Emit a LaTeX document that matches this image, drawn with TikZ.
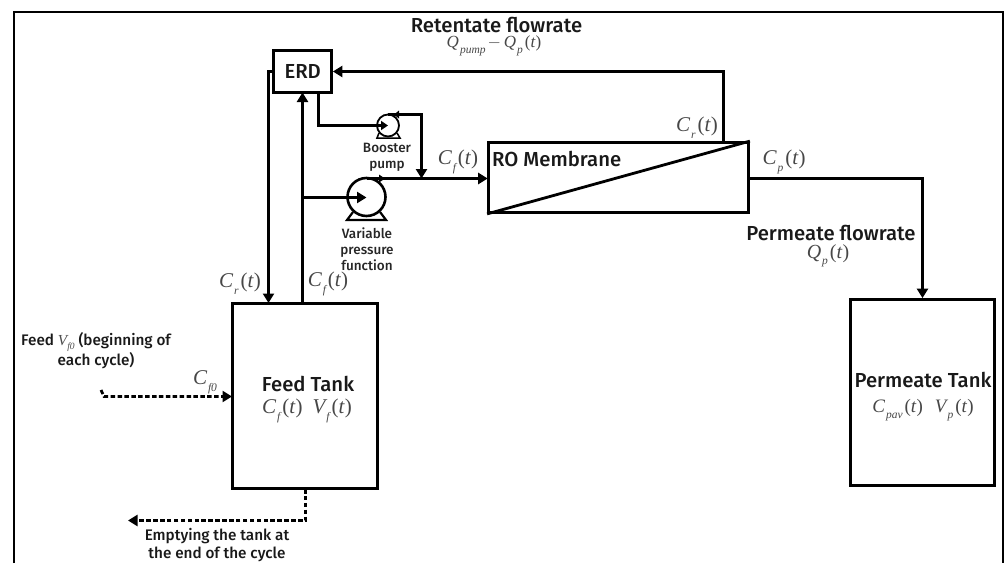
\documentclass[tikz,border=0pt]{standalone}
\usepackage{fontspec}
\setmainfont{Fira Sans}[BoldFont={Fira Sans Medium}]
\newfontfamily\symfont{Liberation Serif}
\usetikzlibrary{arrows.meta}
\newcommand{\sv}[2]{{\symfont\itshape #1\kern1pt\raisebox{-0.32em}{\fontsize{11.5}{11}\selectfont #2}}\kern2pt}
\newcommand{\tf}{{\symfont(\textit{t})}}
\tikzset{
 x=1pt,y=-1pt,
 line/.style={line width=2.8pt,draw=black},
 flow/.style={line,-{Triangle[length=9.5pt,width=11pt]}},
 dflow/.style={line,dash pattern=on 4.5pt off 2.4pt,-{Triangle[length=9.5pt,width=11pt]}},
 box/.style={draw=black,line width=2.8pt,rectangle,inner sep=0pt,fill=white},
 lab/.style={font=\fontsize{20.3}{22}\selectfont\bfseries,align=center,inner sep=0pt,text=black!90},
 smalllab/.style={font=\fontsize{13.5}{16}\selectfont\bfseries,align=center,inner sep=0pt,text=black!85},
 biglab/.style={font=\fontsize{15.3}{18}\selectfont\bfseries,align=center,inner sep=0pt,text=black!90},
 sym/.style={font=\fontsize{21}{23}\selectfont,inner sep=0pt,text=black!72},
 symsm/.style={font=\fontsize{17}{20}\selectfont,inner sep=0pt,text=black!72},
 pumpc/.style={draw=black,line width=2.6pt,circle,inner sep=0pt,fill=white},
}
\begin{document}
\begin{tikzpicture}
\useasboundingbox (0,0) rectangle (1004,563);
\draw[line width=2pt] (14,563) -- (14,12) -- (1003,12) -- (1003,563);

% boxes
\node[box,minimum width=58pt,minimum height=42pt] (erd) at (302.5,71.5) {};
\node[box,minimum width=260pt,minimum height=70pt] (ro) at (618.5,177.5) {};
\node[box,minimum width=145pt,minimum height=185pt] (feed) at (305,396) {};
\node[box,minimum width=144pt,minimum height=186pt] (perm) at (922.5,392.5) {};
\draw[line] (ro.south west) -- (ro.north east);

% pumps
\node[pumpc,minimum size=38pt] (pumpB) at (366.5,197) {};
\node[pumpc,minimum size=22pt,line width=1.8pt] (pumpS) at (388,125.5) {};
\draw[line,line width=2.2pt] (353,212) -- (347,220) -- (386,220) -- (380,212);
\draw[line,line width=1.5pt] (379,133) -- (377,138) -- (400,138) -- (397,133);

% junction coordinates
\coordinate (retTop) at (723.5,143);
\coordinate (retCorner) at (723.5,71.5);
\coordinate (erdLeftTurn) at (268.5,71.5);
\coordinate (crIn) at (268.5,303);
\coordinate (upBase) at (302.5,303);
\coordinate (upTop) at (302.5,92.5);
\coordinate (tapB) at (302.5,197.5);
\coordinate (pumpBin) at (366.5,197.5);
\coordinate (erdOut) at (318.5,92.5);
\coordinate (erdOutTurn) at (318.5,125.5);
\coordinate (boostStart) at (388,114.5);
\coordinate (boostCorner) at (421.5,114.5);
\coordinate (boostIn) at (421.5,178.5);
\coordinate (mainStart) at (366.5,178.5);
\coordinate (mainEnd) at (487.7,178.5);
\coordinate (permCorner) at (922.5,178.5);
\coordinate (permStart) at (749,178.5);
\coordinate (feedStart) at (101,390);
\coordinate (feedCorner) at (104,396.5);
\coordinate (feedIn) at (232,396.5);
\coordinate (emptyStart) at (305.5,489);
\coordinate (emptyCorner) at (305.5,520.5);
\coordinate (emptyEnd) at (128,520.5);

% connectors
\draw[flow] (retTop) -- (retCorner) -- (erd.east);
\draw[flow] (erd.west) -- (erdLeftTurn) -- (crIn);
\draw[flow] (upBase) -- (upTop);
\draw[flow] (tapB) -- (pumpBin);
\draw[flow,-{Triangle[length=7pt,width=9pt]}] (erdOut) -- (erdOutTurn) -- (pumpS.center);
\draw[flow] (mainStart) -- (mainEnd);
\draw[flow] (boostStart) -- (boostCorner) -- (boostIn);
\fill (385,178.5) -- (379,174.5) -- (379,182.5) -- cycle;
\fill (394,114.5) -- (399,110.5) -- (399,118.5) -- cycle;
\draw[flow] (permStart) -- (permCorner) -- (perm.north);
\draw[dflow] (feedStart) -- (feedCorner) -- (feedIn);
\draw[dflow] (emptyStart) -- (emptyCorner) -- (emptyEnd);

% labels
\node[lab] (tErd) at (302.7,71) {ERD};
\node[lab,anchor=west] (tRo) at (492,159) {RO Membrane};
\node[lab] (tFeed) at (308,384) {Feed Tank};
\node[sym] (sFeed) at (307,411) {\sv{C}{f}\tf\hspace{10pt}\sv{V}{f}\tf};
\node[lab] (tPerm) at (923,380) {Permeate Tank};
\node[sym,font=\fontsize{19}{22}\selectfont] (sPerm) at (923,410) {\sv{C}{pav}\tf\hspace{12pt}\sv{V}{p}\tf};
\node[lab] (tRet) at (496.5,25) {Retentate flowrate};
\node[symsm] (sRet) at (494,46) {\sv{Q}{pump}$-$\,\sv{Q}{p}\tf};
\node[lab] (tPf) at (831,233) {Permeate flowrate};
\node[sym,font=\fontsize{20}{22}\selectfont] (sPf) at (828,256) {\sv{Q}{p}\tf};
\node[smalllab] (tBoost) at (387,157) {Booster\\pump};
\node[smalllab] (tVar) at (367,249) {Variable\\pressure\\function};
\node[sym] (sCf1) at (458,162) {\sv{C}{f}\tf};
\node[sym] (sCr1) at (697,128) {\sv{C}{r}\tf};
\node[sym] (sCp) at (784,162) {\sv{C}{p}\tf};
\node[sym] (sCr2) at (240,284) {\sv{C}{r}\tf};
\node[sym] (sCf2) at (328,284) {\sv{C}{f}\tf};
\node[sym] (sCf0) at (206,382) {\sv{C}{f0}};
\node[biglab] (tFv) at (96,351) {Feed {\symfont\mdseries\itshape\textcolor{black!70}{V}\raisebox{-0.25em}{\fontsize{9.5}{9}\selectfont\textcolor{black!70}{f0}}} (beginning of\\each cycle)};
\node[biglab] (tEmpty) at (217,545) {Emptying the tank at\\the end of the cycle};
\end{tikzpicture}
\end{document}
